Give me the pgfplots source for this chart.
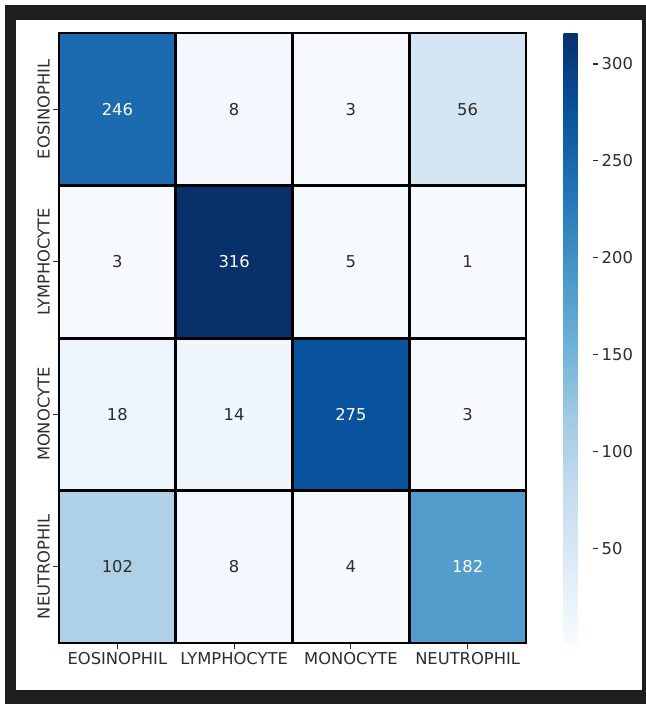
\documentclass[border=0pt]{standalone}
\usepackage{pgfplots}
\usepackage{pgfplotstable}
\pgfplotsset{compat=1.18}
\usepackage{fontspec}
\setmainfont{DejaVu Sans}
\definecolor{frame}{RGB}{30,30,30}
\definecolor{txt}{RGB}{45,45,45}
\pgfplotstableread{
x y v
0 0 246
1 0 8
2 0 3
3 0 56
0 1 3
1 1 316
2 1 5
3 1 1
0 2 18
1 2 14
2 2 275
3 2 3
0 3 102
1 3 8
2 3 4
3 3 182
}\cm
\pgfplotsset{
  colormap={blues}{rgb255=(247,251,255) rgb255=(222,235,247) rgb255=(198,219,239) rgb255=(158,202,225) rgb255=(107,174,214) rgb255=(66,146,198) rgb255=(33,113,181) rgb255=(8,81,156) rgb255=(8,48,107)},
  /pgf/number format/assume math mode=true,
}
\newcommand{\lblfont}{\fontsize{16.4}{19}\selectfont}
\begin{document}
\begin{tikzpicture}
\useasboundingbox (0,0) rectangle (646bp,704bp);
\fill[white] (0,0) rectangle (646bp,704bp);
\fill[frame] (5bp,0) rectangle (646bp,699bp);
\fill[white] (16bp,14bp) rectangle (642bp,684bp);
\begin{axis}[
  at={(59bp,61bp)}, anchor=south west,
  scale only axis, width=467bp, height=610bp,
  xmin=-0.5, xmax=3.5, ymin=-0.5, ymax=3.5, y dir=reverse,
  enlargelimits=false,
  axis on top,
  /pgf/number format/assume math mode=true,
  colormap name=blues, point meta min=1, point meta max=316,
  xtick={0,1,2,3}, ytick={0,1,2,3},
  xticklabels={EOSINOPHIL,LYMPHOCYTE,MONOCYTE,NEUTROPHIL},
  yticklabels={EOSINOPHIL,LYMPHOCYTE,MONOCYTE,NEUTROPHIL},
  minor xtick={0.5,1.5,2.5}, minor ytick={0.5,1.5,2.5},
  xminorgrids, yminorgrids,
  minor grid style={black, line width=3bp},
  minor tick length=0pt,
  tick pos=left, tick align=outside,
  major tick length=5.7bp,
  major tick style={line width=1.2bp, color=txt},
  axis line style={black, line width=1.5bp},
  xticklabel style={font=\lblfont, text=txt},
  yticklabel style={font=\lblfont, text=txt, rotate=90, anchor=south},
  colorbar,
  colorbar style={
    at={(parent axis.north east)}, anchor=north west, xshift=29bp,
    scale only axis, width=29bp, height=610bp,
    ytick={50,100,150,200,250,300},
    ytick pos=right, yticklabel pos=right,
    axis line style={draw=none},
    tick align=outside, major tick length=5.7bp,
    major tick style={line width=1.2bp, color=txt},
    /pgf/number format/assume math mode=true,
    yticklabel style={font=\lblfont, text=txt},
  },
]
\addplot[matrix plot*, mesh/cols=4, point meta=explicit] table[x=x, y=y, meta=v] {\cm};
\addplot[only marks, mark=none, point meta=explicit, nodes near coords,
  restrict expr to domain={\thisrow{v}}{150:1000},
  nodes near coords style={anchor=center, font=\lblfont, text=white}]
  table[x=x, y=y, meta=v] {\cm};
\addplot[only marks, mark=none, point meta=explicit, nodes near coords,
  restrict expr to domain={\thisrow{v}}{0:149},
  nodes near coords style={anchor=center, font=\lblfont, text=txt}]
  table[x=x, y=y, meta=v] {\cm};
\end{axis}
\end{tikzpicture}
\end{document}
